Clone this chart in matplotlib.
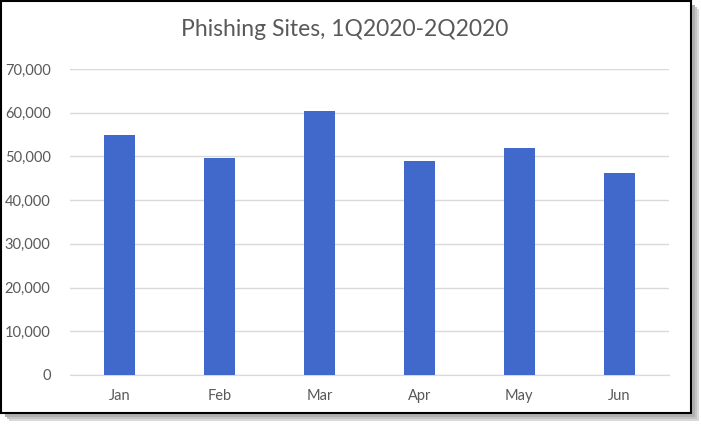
import matplotlib
matplotlib.use("Agg")
import matplotlib.pyplot as plt
from matplotlib.patches import Rectangle
from matplotlib.ticker import FuncFormatter

months = ["Jan", "Feb", "Mar", "Apr", "May", "Jun"]
sites = [55000, 49600, 60300, 49000, 52000, 46100]
yticks = [0, 10000, 20000, 30000, 40000, 50000, 60000, 70000]

plt.rcParams['font.family'] = ['Lato', 'DejaVu Sans']
W, H = 701, 424
fig = plt.figure(figsize=(W/100, H/100), dpi=100)

# shadow + frame
for off, col in [(8, '#d9d9d9'), (6, '#c4c4c4'), (4, '#b0b0b0')]:
    fig.add_artist(Rectangle(((1+off)/W, 1-(413+off)/H), 690/W, 412/H,
                             transform=fig.transFigure, facecolor=col, edgecolor='none', zorder=-3))
fig.add_artist(Rectangle((1/W, 1-413/H), 690/W, 412/H, transform=fig.transFigure,
                         facecolor='white', edgecolor='black', linewidth=1.5, zorder=-2))

ax = fig.add_axes([70/W, 1-375/H, (669-70)/W, (375-69)/H])
ax.set_facecolor('none')
x = list(range(len(months)))
ax.bar(x, sites, width=0.31, color='#4169CC', zorder=3)
ax.set_xlim(-0.5, len(months)-0.5)
ax.set_ylim(0, 70000)
ax.set_yticks(yticks)
ax.yaxis.set_major_formatter(FuncFormatter(lambda v, p: f"{int(v):,}"))
ax.set_xticks(x)
ax.set_xticklabels(months)
ax.grid(axis='y', color='#d9d9d9', linewidth=1, zorder=0)
for s in ['top', 'right', 'left']:
    ax.spines[s].set_visible(False)
ax.spines['bottom'].set_color('#d9d9d9')
ax.tick_params(axis='both', length=0, colors='#595959', labelsize=10.5)
ax.tick_params(axis='y', pad=14)
ax.tick_params(axis='x', pad=10)
fig.text(345/W, 1-30/H, "Phishing Sites, 1Q2020-2Q2020", ha='center', va='center',
         fontsize=16.5, color='#595959')
fig.savefig("out.png", dpi=100)
